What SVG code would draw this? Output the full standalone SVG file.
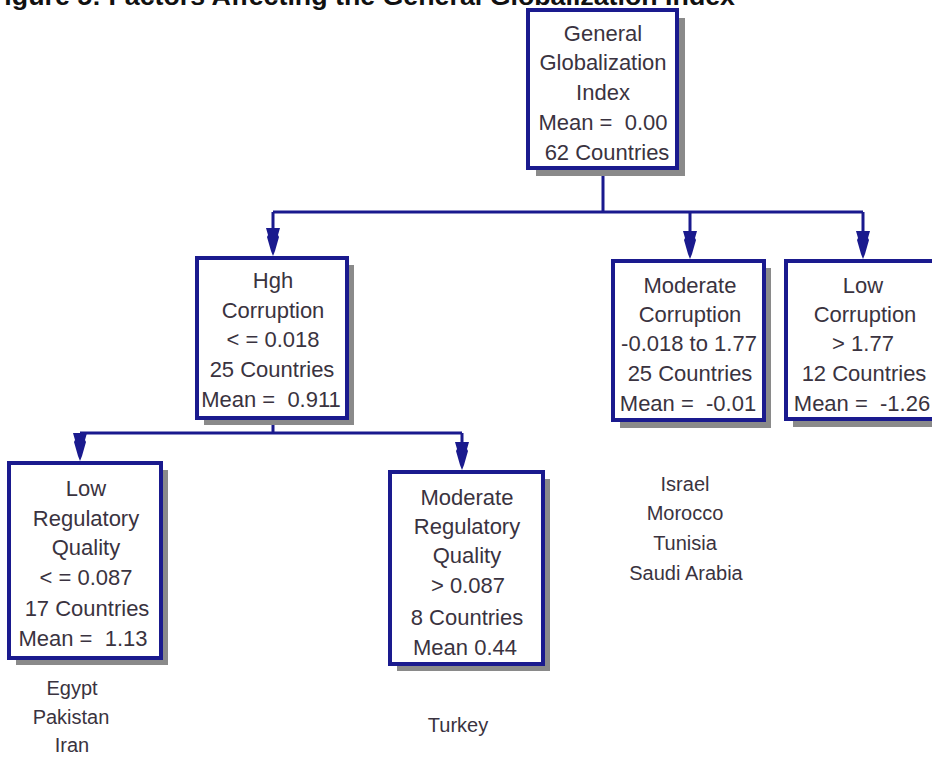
<svg xmlns="http://www.w3.org/2000/svg" width="932" height="757" viewBox="0 0 932 757">
<style>
.bg{fill:#ffffff}
.box{fill:#ffffff;stroke:#1a1a8e;stroke-width:4}
.shadow{fill:#8a8a8a}
.t{font-family:"Liberation Sans",Arial,sans-serif;font-size:22px;fill:#3a3340;text-anchor:middle;white-space:pre}
.l{font-family:"Liberation Sans",Arial,sans-serif;font-size:20px;fill:#3a3340;text-anchor:middle}
.title{font-family:"Liberation Sans",Arial,sans-serif;font-size:26px;font-weight:bold;fill:#111111}
.conn{fill:none;stroke:#1a1a8e;stroke-width:3}
.arr{fill:#1a1a8e}
</style>
<defs>
<path id="ah" d="M -7,-28 L 7,-28 L 5,-21 L 6,-19 L 2,-5 L 0,0 L -2,-5 L -6,-19 L -5,-21 Z"/>
</defs>
<rect class="bg" x="0" y="0" width="932" height="757"/>
<text class="title" x="-12" y="5" textLength="747" lengthAdjust="spacingAndGlyphs">Figure 5: Factors Affecting the General Globalization Index</text>

<g id="connectors">
<path class="conn" d="M603,168 V212 M273,212 H863 M273,212 V240 M690,212 V243 M863,212 V243"/>
<path class="conn" d="M273,418 V433 M80,433 H462 M80,433 V445 M462,433 V454"/>
<use href="#ah" class="arr" x="273" y="256"/>
<use href="#ah" class="arr" x="690" y="259"/>
<use href="#ah" class="arr" x="863" y="259"/>
<use href="#ah" class="arr" x="80" y="461"/>
<use href="#ah" class="arr" x="462" y="470"/>
</g>

<g id="root">
<rect class="shadow" x="536" y="18" width="149" height="158"/>
<rect class="box" x="528" y="10" width="149" height="158"/>
<text class="t" x="603" y="41">General</text>
<text class="t" x="603" y="70">Globalization</text>
<text class="t" x="603" y="100">Index</text>
<text class="t" x="603" y="130">Mean =  0.00</text>
<text class="t" x="607" y="160">62 Countries</text>
</g>

<g id="high-corruption">
<rect class="shadow" x="204" y="265" width="150" height="160"/>
<rect class="box" x="197" y="258" width="150" height="160"/>
<text class="t" x="273" y="288">Hgh</text>
<text class="t" x="273" y="318">Corruption</text>
<text class="t" x="273" y="347">&lt; = 0.018</text>
<text class="t" x="272" y="377">25 Countries</text>
<text class="t" x="271" y="407">Mean =  0.911</text>
</g>

<g id="moderate-corruption">
<rect class="shadow" x="620" y="268" width="151" height="160"/>
<rect class="box" x="613" y="261" width="151" height="159"/>
<text class="t" x="690" y="293">Moderate</text>
<text class="t" x="690" y="322">Corruption</text>
<text class="t" x="689" y="351">-0.018 to 1.77</text>
<text class="t" x="690" y="381">25 Countries</text>
<text class="t" x="688" y="411">Mean =  -0.01</text>
</g>

<g id="low-corruption">
<rect class="shadow" x="793" y="268" width="151" height="159"/>
<rect class="box" x="786" y="261" width="154" height="158"/>
<text class="t" x="863" y="293">Low</text>
<text class="t" x="865" y="322">Corruption</text>
<text class="t" x="863" y="351">&gt; 1.77</text>
<text class="t" x="864" y="381">12 Countries</text>
<text class="t" x="862" y="411">Mean =  -1.26</text>
</g>

<g id="low-regulatory">
<rect class="shadow" x="16" y="470" width="152" height="195"/>
<rect class="box" x="9" y="463" width="152" height="195"/>
<text class="t" x="86" y="496">Low</text>
<text class="t" x="86" y="526">Regulatory</text>
<text class="t" x="86" y="555">Quality</text>
<text class="t" x="86" y="585">&lt; = 0.087</text>
<text class="t" x="87" y="616">17 Countries</text>
<text class="t" x="83" y="646">Mean =  1.13</text>
</g>

<g id="moderate-regulatory">
<rect class="shadow" x="397" y="479" width="153" height="192"/>
<rect class="box" x="390" y="472" width="153" height="192"/>
<text class="t" x="467" y="505">Moderate</text>
<text class="t" x="467" y="534">Regulatory</text>
<text class="t" x="467" y="563">Quality</text>
<text class="t" x="468" y="593">&gt; 0.087</text>
<text class="t" x="467" y="625">8 Countries</text>
<text class="t" x="465" y="655">Mean 0.44</text>
</g>

<g id="list-low-regulatory">
<text class="l" x="72" y="695">Egypt</text>
<text class="l" x="71" y="724">Pakistan</text>
<text class="l" x="72" y="752">Iran</text>
</g>

<g id="list-moderate-regulatory">
<text class="l" x="458" y="732">Turkey</text>
</g>

<g id="list-moderate-corruption">
<text class="l" x="685" y="491">Israel</text>
<text class="l" x="685" y="520">Morocco</text>
<text class="l" x="685" y="550">Tunisia</text>
<text class="l" x="686" y="580">Saudi Arabia</text>
</g>
</svg>
